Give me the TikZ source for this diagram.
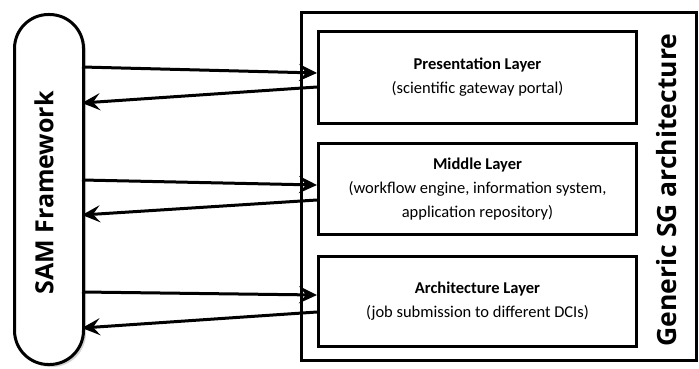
\documentclass[tikz,border=0pt]{standalone}
\usepackage{fontspec}
\setmainfont{Carlito}
\newfontfamily\osans{Open Sans}
\usetikzlibrary{arrows.meta,shadows}
\begin{document}
\begin{tikzpicture}[x=1pt,y=-1pt,
  box/.style={draw,line width=3pt,minimum width=318pt,align=center,font=\fontsize{16.5}{24}\selectfont},
  arr/.style={line width=3pt,-{Stealth[length=18pt,width=17pt,inset=7pt]}}]
\useasboundingbox (0,0) rectangle (699,369);
\node[draw,line width=3pt,minimum width=395pt,minimum height=348pt,anchor=north west] (outer) at (300,11) {};
\node[draw,line width=3pt,fill=white,rounded corners=34pt,minimum width=69pt,minimum height=350pt,anchor=north west,
  drop shadow={shadow xshift=2.5pt,shadow yshift=-2.5pt,opacity=0.35}] (sam) at (13,13) {};
\node[rotate=90,font=\osans\fontsize{25}{30}\selectfont\bfseries] (samt) at (44,193) {SAM Framework};
\node[rotate=90,font=\osans\fontsize{26.5}{32}\selectfont\bfseries] (gen) at (667,190) {Generic SG architecture};
\node[box,minimum height=92pt,anchor=north west] (p) at (317,30) {\textbf{Presentation Layer}\\(scientific gateway portal)};
\node[box,minimum height=91pt,anchor=north west] (m) at (317,142) {\textbf{Middle Layer}\\(workflow engine, information system,\\application repository)};
\node[box,minimum height=90pt,anchor=north west] (a) at (317,255) {\textbf{Architecture Layer}\\(job submission to different DCIs)};
\coordinate (s1) at (82,67); \coordinate (s2) at (82,103);
\coordinate (s3) at (82,180); \coordinate (s4) at (82,215);
\coordinate (s5) at (82,292); \coordinate (s6) at (82,328);
\draw[arr] (s1) -- (p.west |- 0,73);
\draw[arr] (p.west |- 0,87) -- (s2);
\draw[arr] (s3) -- (m.west |- 0,185);
\draw[arr] (m.west |- 0,200) -- (s4);
\draw[arr] (s5) -- (a.west |- 0,295);
\draw[arr] (a.west |- 0,312) -- (s6);
\end{tikzpicture}
\end{document}
